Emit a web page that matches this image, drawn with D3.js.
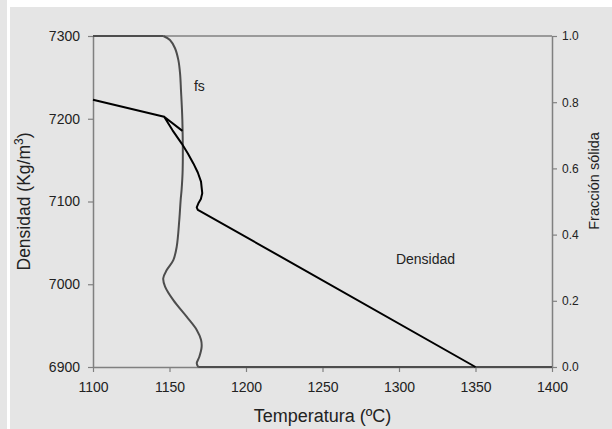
<!DOCTYPE html>
<html>
<head>
<meta charset="utf-8">
<script src="https://cdn.jsdelivr.net/npm/d3@7"></script>
<style>
  body { margin: 0; background: #e5e5e5; }
  svg { display: block; }
</style>
</head>
<body>
<div id="chart"></div>
<script>
// temperature ticks and axis ranges
const x_ticks = [1100, 1150, 1200, 1250, 1300, 1350, 1400];
const dens_ticks = [6900, 7000, 7100, 7200, 7300];
const fs_ticks = [0.0, 0.2, 0.4, 0.6, 0.8, 1.0];

// density curve (Kg/m3) vs temperature
const dens_T = [1100, 1146.5, 1158, 1146.5, 1152, 1158, 1162, 1165.6, 1168.5, 1170.6, 1171.4, 1170.5, 1168.8, 1167.8, 1168.5, 1170, 1350];
const dens_D = [7223, 7202.5, 7186, 7202.5, 7186, 7170, 7158, 7146, 7135, 7124, 7110, 7103, 7097.5, 7093, 7090, 7088.5, 6900];

// solid fraction curve vs temperature
const fs_T = [1100, 1146, 1150.3, 1153.6, 1155.8, 1156.9, 1157.5, 1158.4, 1158.6, 1157.9, 1157.3, 1156.4, 1154.7, 1152.5, 1148.2, 1145.9, 1147.1, 1152.5, 1161.2, 1167.8, 1170.6, 1171, 1169.5, 1167.8, 1168.8, 1400];
const fs_V = [1.0, 1.0, 0.988, 0.963, 0.927, 0.887, 0.837, 0.746, 0.595, 0.535, 0.505, 0.444, 0.363, 0.323, 0.293, 0.268, 0.243, 0.202, 0.152, 0.112, 0.082, 0.061, 0.031, 0.011, 0.0, 0.0];

const width = 612, height = 429;
const margin = {left: 93, right: 60, top: 36, bottom: 62};
const font = "Liberation Sans, Arial, sans-serif";

let svg = d3.select("#chart")
            .append("svg")
            .attr("width", width)
            .attr("height", height);

// white frame strips of the original figure
svg.append("rect").attr("x", 0).attr("y", 0).attr("width", width).attr("height", height).attr("fill", "#e5e5e5");
svg.append("rect").attr("x", 7).attr("y", 0).attr("width", 3).attr("height", height).attr("fill", "#ffffff");
svg.append("rect").attr("x", 10).attr("y", 0).attr("width", width-10).attr("height", 7).attr("fill", "#ffffff");

let x = d3.scaleLinear().domain([1100, 1400]).range([margin.left, width - margin.right]);
let yd = d3.scaleLinear().domain([6900, 7300]).range([height - margin.bottom, margin.top]);
let yf = d3.scaleLinear().domain([0, 1]).range([height - margin.bottom, margin.top]);

const axis_color = "#808080";
const text_color = "#222222";

// top border line
svg.append("line")
   .attr("x1", x(1100)).attr("x2", x(1400))
   .attr("y1", yd(7300)).attr("y2", yd(7300))
   .attr("stroke", axis_color).style("stroke-width", 1.5);

function style_axis(g, size) {
    g.select(".domain").attr("stroke", axis_color).style("stroke-width", 1.5);
    g.selectAll(".tick line").attr("stroke", axis_color).style("stroke-width", 1.2);
    g.selectAll(".tick text")
     .attr("fill", text_color)
     .style("font-family", font)
     .style("font-size", size + "px");
}

let gx = svg.append("g")
            .attr("transform", `translate(0,${height - margin.bottom})`)
            .call(d3.axisBottom(x).tickValues(x_ticks).tickSize(5).tickSizeOuter(0).tickPadding(10).tickFormat(d3.format("d")));
style_axis(gx, 14);

let gl = svg.append("g")
            .attr("transform", `translate(${margin.left},0)`)
            .call(d3.axisLeft(yd).tickValues(dens_ticks).tickSize(5).tickSizeOuter(0).tickPadding(8).tickFormat(d3.format("d")));
style_axis(gl, 14);

let gr = svg.append("g")
            .attr("transform", `translate(${width - margin.right},0)`)
            .call(d3.axisRight(yf).tickValues(fs_ticks).tickSize(5).tickSizeOuter(0).tickPadding(5).tickFormat(d3.format(".1f")));
style_axis(gr, 12);

// fs curve: flat top, curved middle, flat bottom
let fs_data = fs_T.map((t, i) => [t, fs_V[i]]);
let n = fs_data.length;
let fs_line = d3.line().x(d => x(d[0])).y(d => yf(d[1]));
[fs_data.slice(0, 2), fs_data.slice(n - 2)].forEach(seg => {
    svg.append("path")
       .datum(seg)
       .attr("fill", "none")
       .attr("stroke", "#4d4d4d")
       .style("stroke-width", 2)
       .attr("d", fs_line);
});
svg.append("path")
   .datum(fs_data.slice(1, n - 1))
   .attr("fill", "none")
   .attr("stroke", "#4d4d4d")
   .style("stroke-width", 2)
   .attr("d", fs_line.curve(d3.curveCatmullRom.alpha(0.5)));

// density curve
let dens_data = dens_T.map((t, i) => [t, dens_D[i]]);
svg.append("path")
   .datum(dens_data)
   .attr("fill", "none")
   .attr("stroke", "#000000")
   .style("stroke-width", 2)
   .style("stroke-linejoin", "round")
   .attr("d", d3.line().x(d => x(d[0])).y(d => yd(d[1])));

// curve labels
svg.append("text")
   .attr("x", x(1166)).attr("y", yf(0.834))
   .attr("fill", text_color)
   .style("font-family", font)
   .style("font-size", "14px")
   .text("fs");
svg.append("text")
   .attr("x", x(1298)).attr("y", yd(7024))
   .attr("fill", text_color)
   .style("font-family", font)
   .style("font-size", "14px")
   .text("Densidad");

// axis titles
svg.append("text")
   .attr("x", (x(1100) + x(1400)) / 2).attr("y", 422)
   .attr("text-anchor", "middle")
   .attr("fill", text_color)
   .style("font-family", font)
   .style("font-size", "18px")
   .text("Temperatura (ºC)");

let yl = svg.append("text")
   .attr("transform", `translate(30,${(yd(6900) + yd(7300)) / 2}) rotate(-90)`)
   .attr("text-anchor", "middle")
   .attr("fill", text_color)
   .style("font-family", font)
   .style("font-size", "17.5px");
yl.append("tspan").text("Densidad (Kg/m");
yl.append("tspan").attr("dy", -7).style("font-size", "12px").text("3");
yl.append("tspan").attr("dy", 7).text(")");

svg.append("text")
   .attr("transform", `translate(599,181) rotate(-90)`)
   .attr("text-anchor", "middle")
   .attr("fill", text_color)
   .style("font-family", font)
   .style("font-size", "14.5px")
   .text("Fracción sólida");
</script>
</body>
</html>
